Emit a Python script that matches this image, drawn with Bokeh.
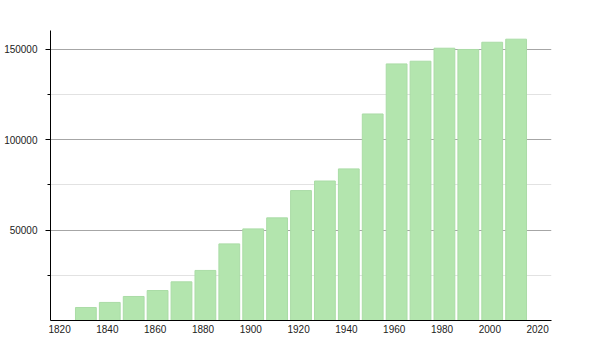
from bokeh.plotting import figure
from bokeh.models import Range1d, FixedTicker, BasicTickFormatter
from bokeh.embed import file_html
from bokeh.resources import INLINE

years = [1831, 1841, 1851, 1861, 1871, 1881, 1891, 1901, 1911, 1921,
         1931, 1941, 1951, 1961, 1971, 1981, 1991, 2001, 2011]
population = [7200, 10000, 13300, 16600, 21400, 27700, 42400, 50700, 56800, 71900,
              77200, 83900, 114300, 142000, 143500, 150700, 150000, 154000, 155700]
x_ticks = [1820, 1840, 1860, 1880, 1900, 1920, 1940, 1960, 1980, 2000, 2020]
y_ticks = [50000, 100000, 150000]
y_minor = [25000, 75000, 125000]

p = figure(width=600, height=350, output_backend="svg", toolbar_location=None,
           x_range=Range1d(1816.2, 2025.8), y_range=Range1d(0, 160500),
           min_border_left=50, min_border_right=49, min_border_top=30, min_border_bottom=30)
p.outline_line_color = None
p.background_fill_color = "white"
p.border_fill_color = "white"

p.vbar(x=years, top=population, width=8.7, bottom=0,
       fill_color="#b3e5ae", line_color="#aadca6", line_width=1)

font = "Liberation Sans"
p.xaxis.ticker = FixedTicker(ticks=x_ticks)
p.xaxis.formatter = BasicTickFormatter(use_scientific=False)
p.xaxis.major_tick_line_color = None
p.xaxis.minor_tick_line_color = None
p.xaxis.major_tick_out = 0
p.xaxis.major_tick_in = 0
p.xaxis.major_label_standoff = 4
p.xaxis.axis_line_color = "black"
p.xaxis.major_label_text_font = font
p.xaxis.major_label_text_font_size = "10px"
p.xaxis.major_label_text_color = "#222222"

p.yaxis.ticker = FixedTicker(ticks=y_ticks, minor_ticks=y_minor)
p.yaxis.formatter = BasicTickFormatter(use_scientific=False)
p.yaxis.axis_line_color = "black"
p.yaxis.major_tick_line_color = "black"
p.yaxis.major_tick_out = 5
p.yaxis.major_tick_in = 0
p.yaxis.minor_tick_line_color = "black"
p.yaxis.minor_tick_out = 3
p.yaxis.minor_tick_in = 0
p.yaxis.major_label_standoff = 8
p.yaxis.major_label_text_font = font
p.yaxis.major_label_text_font_size = "10px"
p.yaxis.major_label_text_color = "#222222"

p.xgrid.grid_line_color = None
p.ygrid.grid_line_color = "#a6a6a6"
p.ygrid.minor_grid_line_color = "#e2e2e2"

open("out.html", "w").write(file_html(p, INLINE))
